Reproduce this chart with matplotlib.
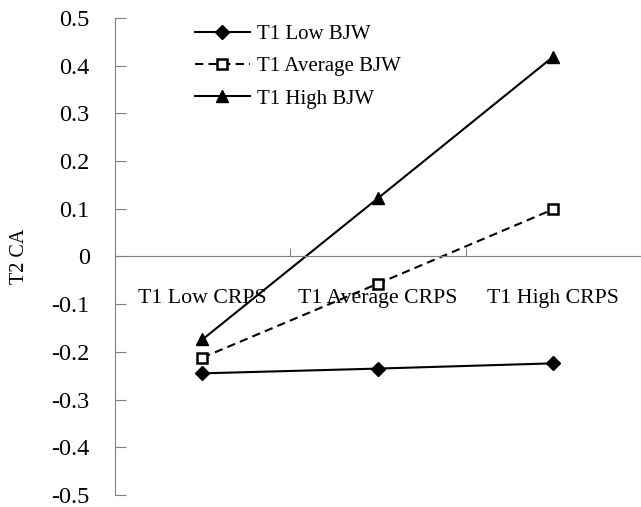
import matplotlib.pyplot as plt
import matplotlib as mpl

mpl.rc('font', family='Liberation Serif')

categories = ['T1 Low CRPS', 'T1 Average CRPS', 'T1 High CRPS']
low_bjw = [-0.245, -0.235, -0.224]
avg_bjw = [-0.212, -0.057, 0.099]
high_bjw = [-0.174, 0.122, 0.419]
yticks = [-0.5, -0.4, -0.3, -0.2, -0.1, 0, 0.1, 0.2, 0.3, 0.4, 0.5]
ytick_labels = ['-0.5', '-0.4', '-0.3', '-0.2', '-0.1', '0', '0.1', '0.2', '0.3', '0.4', '0.5']

fig = plt.figure(figsize=(6.41, 5.07), dpi=100)
ax = fig.add_axes([0.179, 0.0237, 0.821, 0.9408])

x = range(len(categories))
ax.plot(x, low_bjw, color='black', lw=1.5, marker='D', ms=7, label='T1 Low BJW')
ax.plot(x, avg_bjw, color='black', lw=1.5, ls=(0, (4, 2.5)), marker='s', ms=7,
        mfc='white', mec='black', mew=1.8, label='T1 Average BJW')
ax.plot(x, high_bjw, color='black', lw=1.5, marker='^', ms=9, label='T1 High BJW')

ax.set_xlim(-0.5, 2.5)
ax.set_ylim(-0.5, 0.5)
ax.set_yticks(yticks)
ax.set_yticklabels(ytick_labels, fontsize=17.5)
ax.tick_params(axis='y', direction='in', length=8, color='#808080', pad=18)

ax.set_xticks([0.5, 1.5])
ax.set_xticklabels([])
ax.tick_params(axis='x', direction='in', length=6, color='#808080')

ax.spines['top'].set_visible(False)
ax.spines['right'].set_visible(False)
ax.spines['bottom'].set_position(('data', 0))
ax.spines['bottom'].set_color('#808080')
ax.spines['left'].set_color('#808080')

for i, c in enumerate(categories):
    ax.text(i, -0.088, c, ha='center', va='center', fontsize=15.7)

ax.set_ylabel('T2 CA', fontsize=14.5, labelpad=16)

ax.legend(loc='upper left', bbox_to_anchor=(0.116, 1.025), frameon=False, fontsize=15,
          handlelength=2.65, labelspacing=0.6, handletextpad=0.33)

plt.savefig('out.png', dpi=100)
